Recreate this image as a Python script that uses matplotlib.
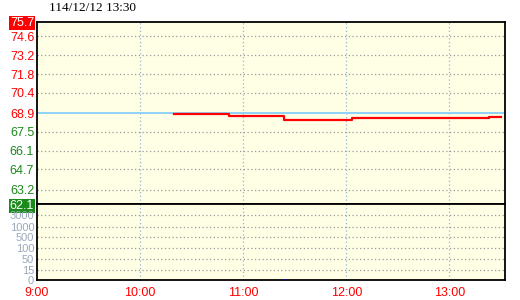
import matplotlib
matplotlib.use("Agg")
import matplotlib.pyplot as plt
import numpy as np

# ---- data ----
title = "114/12/12 13:30"
ref_price = 68.9
price_top, price_bot = 75.7, 62.1
price_ticks = [74.6, 73.2, 71.8, 70.4, 68.9, 67.5, 66.1, 64.7, 63.2]
trade_min = [80, 112, 144, 183, 263, 270]          # minutes after 9:00
trade_price = [68.8, 68.7, 68.4, 68.5, 68.6, 68.6]
vol_labels = ["0", "15", "50", "100", "500", "1000", "3000"]
vol_values = [0, 15, 50, 100, 500, 1000, 3000]
vol_min = [144]
vol_amt = [2]
time_labels = ["9:00", "10:00", "11:00", "12:00", "13:00"]
time_ticks = [0, 60, 120, 180, 240]

# ---- layout ----
W, H = 520, 300
fig = plt.figure(figsize=(W / 100, H / 100), dpi=100)
L, R = 37 / W, 505 / W
y_top, y_mid, y_bot = 1 - 21.7 / H, 1 - 204.3 / H, 1 - 280 / H
ax = fig.add_axes([L, y_mid, R - L, y_top - y_mid])
axv = fig.add_axes([L, y_bot, R - L, y_mid - y_bot], sharex=ax)

bg = "#FFFFE6"
fam = ["Liberation Sans Narrow", "Liberation Sans", "DejaVu Sans"]
xmax = 272.3

for a in (ax, axv):
    a.set_facecolor(bg)
    for s in a.spines.values():
        s.set_color("black")
        s.set_linewidth(1.3)
    a.tick_params(length=0)
    for t in time_ticks[1:]:
        a.axvline(t, color="#8fb8d8", lw=0.9, ls=(0, (1, 2)), zorder=1)

ax.set_xlim(0, xmax)
ax.set_ylim(price_bot, price_top)

# horizontal grid
for p in price_ticks:
    if p != ref_price:
        ax.axhline(p, color="#999999", lw=0.9, ls=(0, (1, 2)), zorder=1)
ax.axhline(ref_price, color="#87CEFA", lw=1.3, zorder=2)

# price step line
ax.step(trade_min, trade_price, where="post", color="red", lw=1.6, zorder=3)

# price labels
yt = [price_top] + price_ticks + [price_bot]
ax.set_yticks(yt)
ax.set_yticklabels([f"{v:.1f}" for v in yt], family=fam, fontsize=9)
for v, lab in zip(yt, ax.get_yticklabels()):
    if v == price_top:
        lab.set_color("white")
        lab.set_bbox(dict(facecolor="red", edgecolor="none", pad=0.6))
    elif v == price_bot:
        lab.set_color("white")
        lab.set_bbox(dict(facecolor="#1a8a1a", edgecolor="none", pad=0.6))
    elif v >= ref_price:
        lab.set_color("red")
    else:
        lab.set_color("#1a8a1a")
ax.tick_params(axis="y", pad=2)
ax.tick_params(axis="x", labelbottom=False)

# volume pane (non-linear scale mapped by labelled levels)
vol_pos = [0, 9.7, 20.7, 31.7, 42.7, 53.3, 64.7]
axv.set_ylim(0, 75.7)
for p in vol_pos[1:]:
    axv.axhline(p, color="#999999", lw=0.9, ls=(0, (1, 2)), zorder=1)
axv.set_yticks(vol_pos)
axv.set_yticklabels(vol_labels, family=fam, fontsize=8, color="#9aaabb")
axv.tick_params(axis="y", pad=2)
vh = np.interp(vol_amt, vol_values, vol_pos)
axv.vlines(vol_min, 0, vh, color="blue", lw=1.2, zorder=3)

axv.set_xticks(time_ticks)
axv.set_xticklabels(time_labels, family=fam, fontsize=9, color="red")
axv.tick_params(axis="x", pad=5)

fig.text(49 / W, 1 - 2 / H, title, family=["Liberation Serif", "DejaVu Serif"],
         fontsize=9.5, va="top", ha="left", color="black")

fig.savefig("out.png", dpi=100, facecolor="white")
